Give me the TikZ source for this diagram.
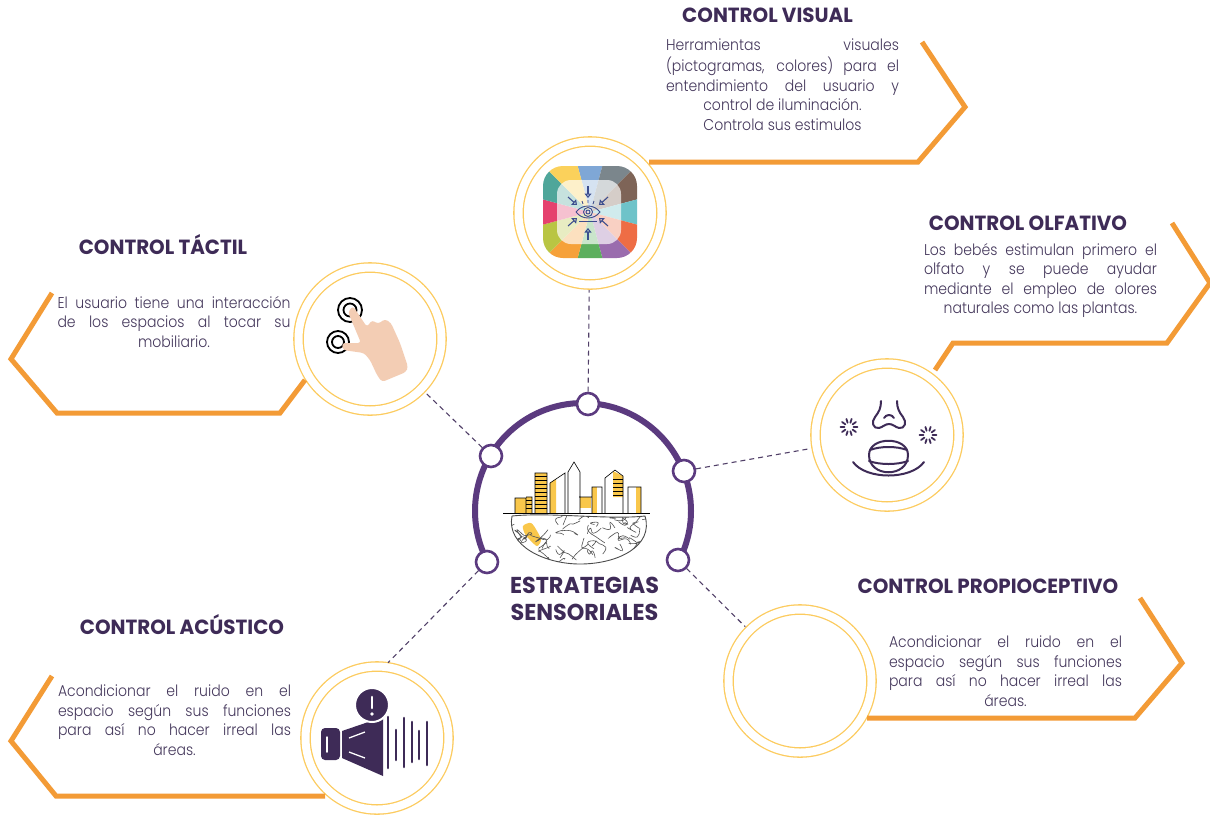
\documentclass[tikz,border=0pt]{standalone}
\usepackage{fontspec}
\IfFontExistsTF{Poppins Light}
  {\setmainfont{Poppins Light}[FakeStretch=0.9]}
  {\setmainfont{Poppins}[FakeStretch=0.9]}
\newfontfamily\headfont{Poppins}[FakeStretch=0.97]
\usetikzlibrary{arrows.meta}

\definecolor{tinta}{HTML}{3E2B57}
\definecolor{tintatexto}{HTML}{45385C}
\definecolor{morado}{HTML}{5B3A7F}
\definecolor{amarillo}{HTML}{FCCB5E}
\definecolor{naranja}{HTML}{F39B36}
\definecolor{piel}{HTML}{F3CDB4}
\definecolor{azulojo}{HTML}{3C4D8E}
\definecolor{ciudad}{HTML}{F9C74B}

% renglones justificados de ancho fijo
\newlength\anchotexto
\setlength\anchotexto{233pt}
\newcommand\jl[1]{\makebox[\anchotexto][s]{\rule[-5pt]{0pt}{14pt}#1}}
\newcommand\cl[1]{\rule[-5pt]{0pt}{14pt}#1}

\begin{document}
\begin{tikzpicture}[x=1pt, y=-1pt,
    anillo/.style={
        circle,
        minimum size=143pt,
        inner sep=0pt,
        fill=white,
        draw=amarillo,
        line width=1.3pt,
        double=white,
        double distance=8pt,
    },
    punto/.style={circle, minimum size=22pt, inner sep=0pt, fill=white, draw=morado, line width=2.6pt},
    conector/.style={draw=tinta!90, line width=1.1pt, dash pattern=on 5pt off 4pt, shorten >=5pt},
    marco/.style={draw=naranja, line width=5pt},
    titulo/.style={font=\headfont\bfseries\fontsize{20.5}{24}\selectfont, text=tinta, inner sep=0pt, anchor=base},
    texto/.style={font=\fontsize{15.6}{19.5}\selectfont, text=tintatexto, align=center, inner sep=0pt, anchor=north},
    trazo/.style={tinta, line width=2pt, line cap=round, line join=round},
]

\path[use as bounding box, fill=white] (0,0) rectangle (1210,815);

% Arco central
\coordinate (centro) at (583,511);
\begin{scope}
    \clip (583,511) -- (386,608) -- (380,380) -- (790,380) -- (778,608) -- cycle;
    \draw[morado, line width=6pt] (centro) circle[radius=108];
\end{scope}

% Puntos del arco
\node[punto] (pArriba) at (588,404) {};
\node[punto] (pIzqSup) at (491,456) {};
\node[punto] (pDerSup) at (684,471) {};
\node[punto] (pIzqInf) at (487,562) {};
\node[punto] (pDerInf) at (678,560) {};

% Anillos
\node[anillo] (visual) at (590,213) {};
\node[anillo] (tactil) at (370,339) {};
\node[anillo] (olfativo) at (887,435) {};
\node[anillo] (acustico) at (377,738) {};
\node[anillo] (propio) at (800,681) {};

% Conexiones
\draw[conector] (pArriba) -- (visual);
\draw[conector] (pIzqSup) -- (tactil);
\draw[conector] (pDerSup) -- (olfativo);
\draw[conector] (pIzqInf) -- (acustico.84);
\draw[conector] (pDerInf) -- (propio);

% Marcos
\draw[marco] (922,42) -- (965,107) -- (918,162) -- (649,162);
\draw[marco] (1172,223) -- (1210,283) -- (1167,343) -- (953,343) -- (935,370);
\draw[marco] (52,293) -- (11,359) -- (57,413) -- (280,413) -- (305,380);
\draw[marco] (52,676) -- (11,741) -- (56,796) -- (325,796);
\draw[marco] (1140,598) -- (1182,663) -- (1135,718) -- (867,718);

% Titulos
\node[titulo] (tVisual) at (767.5,22) {CONTROL VISUAL};
\node[titulo] (tTactil) at (163,254) {CONTROL TÁCTIL};
\node[titulo] (tOlfativo) at (1028,230) {CONTROL OLFATIVO};
\node[titulo] (tPropio) at (988,593) {CONTROL PROPIOCEPTIVO};
\node[titulo] (tAcustico) at (182,634) {CONTROL ACÚSTICO};
\node[titulo, anchor=north, align=center, font=\headfont\bfseries\fontsize{23}{27}\selectfont]
    (tCentro) at (584.5,577) {ESTRATEGIAS\\SENSORIALES};

% Textos
\node[texto] (xVisual) at (782.5,39) {\jl{Herramientas visuales}\\
    \jl{(pictogramas, colores) para el}\\ \jl{entendimiento del usuario y}\\
    \cl{control de iluminación.}\\ \cl{Controla sus estimulos}};
\node[texto] (xTactil) at (174,296) {\jl{El usuario tiene una interacción}\\
    \jl{de los espacios al tocar su}\\ \cl{mobiliario.}};
\node[texto] (xOlfativo) at (1040.5,243) {\jl{Los bebés estimulan primero el}\\
    \jl{olfato y se puede ayudar}\\ \jl{mediante el empleo de olores}\\
    \cl{naturales como las plantas.}};
\node[texto] (xPropio) at (1005.5,636) {\jl{Acondicionar el ruido en el}\\
    \jl{espacio según sus funciones}\\ \jl{para así no hacer irreal las}\\ \cl{áreas.}};
\node[texto] (xAcustico) at (174.5,685) {\jl{Acondicionar el ruido en el}\\
    \jl{espacio según sus funciones}\\ \jl{para así no hacer irreal las}\\ \cl{áreas.}};

% Icono visual: cuadro de colores con ojo
\begin{scope}
    \clip[rounded corners=20pt] (543,166) rectangle (637,258);
    \foreach \c [count=\i] in {7FA7D6,7B868C,7E6457,6EC3C9,EE6D45,9A6CAE,5DAF5E,F6A13A,B9C543,E5416E,4FA69A,FBD15B} {
        \definecolor{cuna}{HTML}{\c}
        \fill[cuna] (590,212) -- +(\i*30-135:95) -- +(\i*30-105:95) -- cycle;
    }
\end{scope}
\fill[white, opacity=0.68, rounded corners=14pt] (557,180) rectangle (621,244);
\begin{scope}[azulojo, line width=0.9pt]
    \draw (576,212) .. controls (582,204) and (594,204) .. (600,212) .. controls (594,220) and (582,220) .. (576,212);
    \draw (588,212) circle[radius=4.5] (588,212) circle[radius=2];
    \draw (588,203) -- (588,200) (583,204) -- (582,201) (593,204) -- (594,201);
    \draw (579,221) -- (597,221);
    \foreach \a/\b in {{588,186}/{588,198}, {588,240}/{588,228}, {568,197}/{577,205},
                      {608,197}/{599,205}, {568,226}/{577,218}, {608,226}/{599,218}}
        \draw[line width=1.1pt, -{Triangle[open, length=4.5pt, width=7pt]}] (\a) -- (\b);
\end{scope}

% Icono tactil: mano con ondas
\begin{scope}[line width=1.8pt]
    \draw (350,310) circle[radius=12] (350,310) circle[radius=6.5];
    \draw (338,342) circle[radius=11] (338,342) circle[radius=6];
\end{scope}
\fill[piel, rounded corners=3pt] (353,306) -- (367,327) -- (372,320) -- (378,324) -- (385,319)
    -- (391,323) -- (400,343) -- (408,367) -- (406,372) -- (382,382) -- (377,375) -- (370,360)
    -- (364,353) -- (343,350) -- (342,343) -- (361,343) -- (348,312) -- cycle;

% Icono olfativo: nariz y boca
\begin{scope}[trazo]
    \draw (881,401) .. controls (881,408) and (879,412) .. (875,417) .. controls (871,422) and (873,429) .. (879,428)
        .. controls (883,427) and (885,424) .. (889,424) .. controls (893,424) and (895,427) .. (899,428)
        .. controls (905,429) and (907,422) .. (903,417) .. controls (899,412) and (897,408) .. (897,401);
    \draw (884,418) .. controls (886,414) and (892,414) .. (894,418);
    \draw (869,455) .. controls (869,436) and (908,436) .. (908,455) .. controls (908,478) and (869,478) .. (869,455);
    \draw (870,450) .. controls (880,446) and (897,446) .. (907,450);
    \draw (869,461) .. controls (880,465) and (897,465) .. (908,461);
    \draw (853,462) .. controls (866,480) and (911,480) .. (924,462);
    \foreach \a in {0,36,...,324} {
        \draw[line width=1.8pt] (849,427) +(\a:4.5) -- +(\a:8.5);
        \draw[line width=1.8pt] (928,435) +(\a:4.5) -- +(\a:8.5);
    }
\end{scope}

% Icono acustico: megafono
\fill[tinta, rounded corners=4pt] (321,728) rectangle (340,760);
\draw[white, line width=1.5pt, line cap=round] (327,737) -- (327,752);
\fill[tinta] (342,731) -- (383,717) -- (383,776) -- (342,758) -- cycle;
\draw[white, line width=1.3pt] (349,738) -- (365,732) (349,752) -- (365,758);
\filldraw[fill=tinta, draw=white, line width=2pt] (372,705) circle[radius=17];
\draw[white, line width=2.6pt, line cap=round] (372,697) -- (372,708);
\fill[white] (372,714) circle[radius=1.8];
\foreach \x/\ya/\yb in {388/717/768, 396/730/760, 404/718/767, 412/722/762, 419/731/759, 427/722/765}
    \draw[tinta, line width=2.6pt, line cap=round] (\x,\ya) -- (\x,\yb);

% Icono central: ciudad sobre cerebro
\begin{scope}[line width=0.6pt]
    \fill[ciudad] (515,498) rectangle (526,513);
    \fill[ciudad] (526,497) rectangle (532,513);
    \fill[ciudad] (535,473) rectangle (547,513);
    \fill[ciudad] (550,483) -- (556,479) -- (556,513) -- (550,513) -- cycle;
    \fill[ciudad] (580,497) rectangle (591,508);
    \fill[ciudad] (592,487) rectangle (597,513);
    \fill[ciudad] (613,471) -- (623,476) -- (623,497) -- (613,497) -- cycle;
    \fill[ciudad] (636,487) rectangle (641,513);
    \foreach \y in {476,480,...,508} \draw[line width=0.4pt] (535,\y) -- (547,\y);
    \foreach \y in {479,483,...,495} \draw[line width=0.4pt] (613,\y) -- (623,\y);
    \foreach \y in {500,504,508} \draw[line width=0.4pt] (526,\y) -- (532,\y);
    \draw (515,513) -- (515,498) -- (526,498) -- (526,513)
          (526,497) -- (532,497) -- (532,513)
          (535,513) -- (535,473) -- (547,473) -- (547,513)
          (550,513) -- (550,483) -- (565,473) -- (565,513)
          (568,513) -- (568,472) -- (574,462) -- (580,472) -- (580,513)
          (579,497) -- (592,497) -- (592,513)
          (592,513) -- (592,487) -- (602,487) -- (602,513)
          (605,513) -- (605,478) -- (615,470) -- (623,476) -- (623,513)
          (628,513) -- (628,487) -- (641,487) -- (641,513);
    \draw (503,513) -- (650,513);
\end{scope}
\filldraw[fill=white, draw=black!70, line width=0.9pt]
    (512,516) .. controls (506,546) and (545,564) .. (580,564) .. controls (618,564) and (654,546) .. (645,516)
    .. controls (610,520) and (550,512) .. (512,516);
\fill[ciudad] plot[smooth cycle] coordinates {(523,526) (531,523) (537,531) (541,540) (537,546) (530,540) (525,534)};
\begin{scope}
    \clip (512,516) .. controls (506,546) and (545,564) .. (580,564) .. controls (618,564) and (654,546) .. (645,516)
        .. controls (610,520) and (550,512) .. (512,516);
    \pgfmathsetseed{5}
    \foreach \i in {1,...,55} {
        \pgfmathsetmacro\xa{508+142*rnd}
        \pgfmathsetmacro\ya{514+50*rnd}
        \pgfmathsetmacro\xb{\xa+9*rand}
        \pgfmathsetmacro\yb{\ya+7*rand}
        \pgfmathsetmacro\xc{\xb+9*rand}
        \pgfmathsetmacro\yc{\yb+7*rand}
        \pgfmathsetmacro\xd{\xc+9*rand}
        \pgfmathsetmacro\yd{\yc+7*rand}
        \draw[black!68, line width=0.6pt, line cap=round]
            plot[smooth, tension=0.9] coordinates {(\xa,\ya) (\xb,\yb) (\xc,\yc) (\xd,\yd)};
    }
\end{scope}

\end{tikzpicture}
\end{document}
